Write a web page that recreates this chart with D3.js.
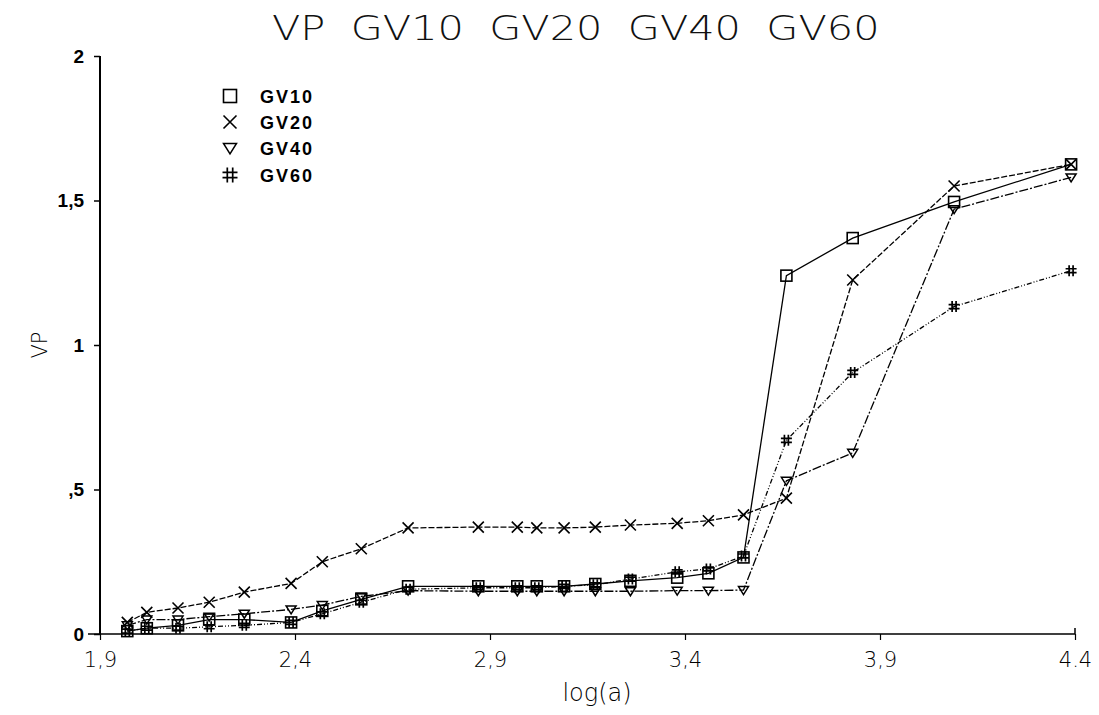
<!DOCTYPE html>
<html><head><meta charset="utf-8">
<script src="https://cdn.jsdelivr.net/npm/d3@7"></script>
<style>
html,body{margin:0;padding:0;background:#fff;}
svg{display:block;}
</style></head>
<body>
<svg id="chart" width="1099" height="715"></svg>
<script>
const xValues = [1.97, 2.02, 2.10, 2.18, 2.27, 2.39, 2.47, 2.57, 2.69, 2.87, 2.97, 3.02, 3.09, 3.17, 3.26, 3.38, 3.46, 3.55, 3.66, 3.83, 4.09, 4.39];
const gv10 = [0.01, 0.02, 0.03, 0.05, 0.05, 0.04, 0.08, 0.12, 0.165, 0.165, 0.165, 0.165, 0.165, 0.173, 0.184, 0.195, 0.21, 0.265, 1.24, 1.37, 1.495, 1.625];
const gv20 = [0.04, 0.075, 0.09, 0.11, 0.145, 0.175, 0.25, 0.295, 0.367, 0.37, 0.37, 0.367, 0.367, 0.37, 0.377, 0.383, 0.392, 0.412, 0.47, 1.225, 1.55, 1.625];
const gv40 = [0.03, 0.05, 0.05, 0.06, 0.07, 0.085, 0.10, 0.13, 0.15, 0.148, 0.148, 0.148, 0.148, 0.148, 0.148, 0.15, 0.15, 0.152, 0.53, 0.627, 1.47, 1.58];
const gv60 = [0.01, 0.02, 0.02, 0.025, 0.03, 0.04, 0.07, 0.11, 0.155, 0.16, 0.16, 0.16, 0.165, 0.17, 0.19, 0.215, 0.225, 0.27, 0.67, 0.905, 1.133, 1.257];
const seriesNames = ["GV10", "GV20", "GV40", "GV60"];
const xTicks = [1.9, 2.4, 2.9, 3.4, 3.9, 4.4];
const xTickLabels = ["1,9", "2,4", "2,9", "3,4", "3,9", "4.4"];
const yTicks = [0, 0.5, 1, 1.5, 2];
const yTickLabels = ["0", ",5", "1", "1,5", "2"];
const titleText = "VP GV10 GV20 GV40 GV60";
const xLabel = "log(a)";
const yLabel = "VP";

const svg = d3.select("#chart");
const x = d3.scaleLinear().domain([1.9, 4.4]).range([100, 1075]);
const y = d3.scaleLinear().domain([0, 2]).range([634, 56]);

// title (horizontally stretched to mimic the wide plotter font)
svg.append("g").attr("transform", "translate(272,40) scale(1.22,1)")
  .append("text").attr("x", 0).attr("y", 0)
  .attr("textLength", 498).attr("lengthAdjust", "spacing")
  .style("font-family", "DejaVu Sans").style("font-weight", 200)
  .style("font-size", "34px").style("word-spacing", "10px").attr("fill", "#111").text(titleText);

// axes
const yAxis = d3.axisLeft(y).tickValues(yTicks).tickSize(6).tickPadding(10)
  .tickFormat((d, i) => yTickLabels[i]);
const gy = svg.append("g").attr("transform", `translate(${x(1.9)},0)`).call(yAxis);
gy.select(".domain").attr("stroke", "#000").attr("stroke-width", 2).attr("d", `M0,${y(2)}V${y(0)}`);
gy.selectAll(".tick line").attr("stroke", "#000").attr("stroke-width", 1.5);
gy.selectAll(".tick text").style("font-family", "Liberation Sans, Arial").style("font-weight", "bold")
  .style("font-size", "19px").attr("fill", "#000");

const xAxis = d3.axisBottom(x).tickValues(xTicks).tickSize(6).tickPadding(12)
  .tickFormat((d, i) => xTickLabels[i]);
const gx = svg.append("g").attr("transform", `translate(0,${y(0)})`).call(xAxis);
gx.select(".domain").attr("stroke", "#000").attr("stroke-width", 1.5)
  .attr("d", `M${x(1.9) - 12},0H${x(4.4)}V-6`);
gx.selectAll(".tick line").attr("stroke", "#000").attr("stroke-width", 1.2);
gx.selectAll(".tick text").style("font-family", "DejaVu Sans").style("font-weight", 200)
  .style("font-size", "21px").attr("fill", "#000");

// axis labels
svg.append("text").attr("x", 597).attr("y", 701).attr("text-anchor", "middle")
  .style("font-family", "DejaVu Sans").style("font-weight", 200).style("font-size", "24px")
  .attr("fill", "#000").text(xLabel);
svg.append("text").attr("transform", "translate(47,345) rotate(-90)").attr("text-anchor", "middle")
  .style("font-family", "DejaVu Sans").style("font-weight", 200).style("font-size", "21px")
  .attr("fill", "#000").text(yLabel);

// series
const seriesData = [gv10, gv20, gv40, gv60];
const dashes = ["none", "6,2", "9,2,2,2", "5,2,1,2,1,2"];
const line = d3.line().x(d => x(d[0])).y(d => y(d[1]));

function marker(g, type, s) {
  if (type === 0) {
    g.append("rect").attr("x", -s/2).attr("y", -s/2).attr("width", s).attr("height", s)
      .attr("fill", "none").attr("stroke", "#000").attr("stroke-width", 1.6);
  } else if (type === 1) {
    g.append("path").attr("d", `M${-s/2},${-s/2}L${s/2},${s/2}M${-s/2},${s/2}L${s/2},${-s/2}`)
      .attr("stroke", "#000").attr("stroke-width", 1.6);
  } else if (type === 2) {
    g.append("path").attr("d", `M${-s/2},${-s*0.35}H${s/2}L0,${s*0.45}Z`)
      .attr("fill", "none").attr("stroke", "#000").attr("stroke-width", 1.5);
  } else {
    const h = s/2, q = s*0.18;
    g.append("path").attr("d", `M${-q},${-h}V${h}M${q},${-h}V${h}M${-h},${-q}H${h}M${-h},${q}H${h}`)
      .attr("stroke", "#000").attr("stroke-width", 1.7);
  }
}

seriesData.forEach((vals, si) => {
  const pts = xValues.map((xv, i) => [xv, vals[i]]);
  svg.append("path").datum(pts).attr("d", line).attr("fill", "none")
    .attr("stroke", "#000").attr("stroke-width", 1.3).attr("stroke-dasharray", dashes[si]);
  pts.forEach(p => {
    const g = svg.append("g").attr("transform", `translate(${x(p[0])},${y(p[1])})`);
    marker(g, si, si === 2 ? 10 : 11);
  });
});

// legend
const legendY = [96, 122, 148, 175];
seriesNames.forEach((n, i) => {
  const g = svg.append("g").attr("transform", `translate(230,${legendY[i]})`);
  marker(g, i, i === 3 ? 15 : 13);
  svg.append("text").attr("x", 260).attr("y", legendY[i] + 7)
    .style("font-family", "Liberation Sans, Arial").style("font-weight", "bold")
    .style("font-size", "18px").style("letter-spacing", "2px").attr("fill", "#000").text(n);
});
</script>
</body></html>
